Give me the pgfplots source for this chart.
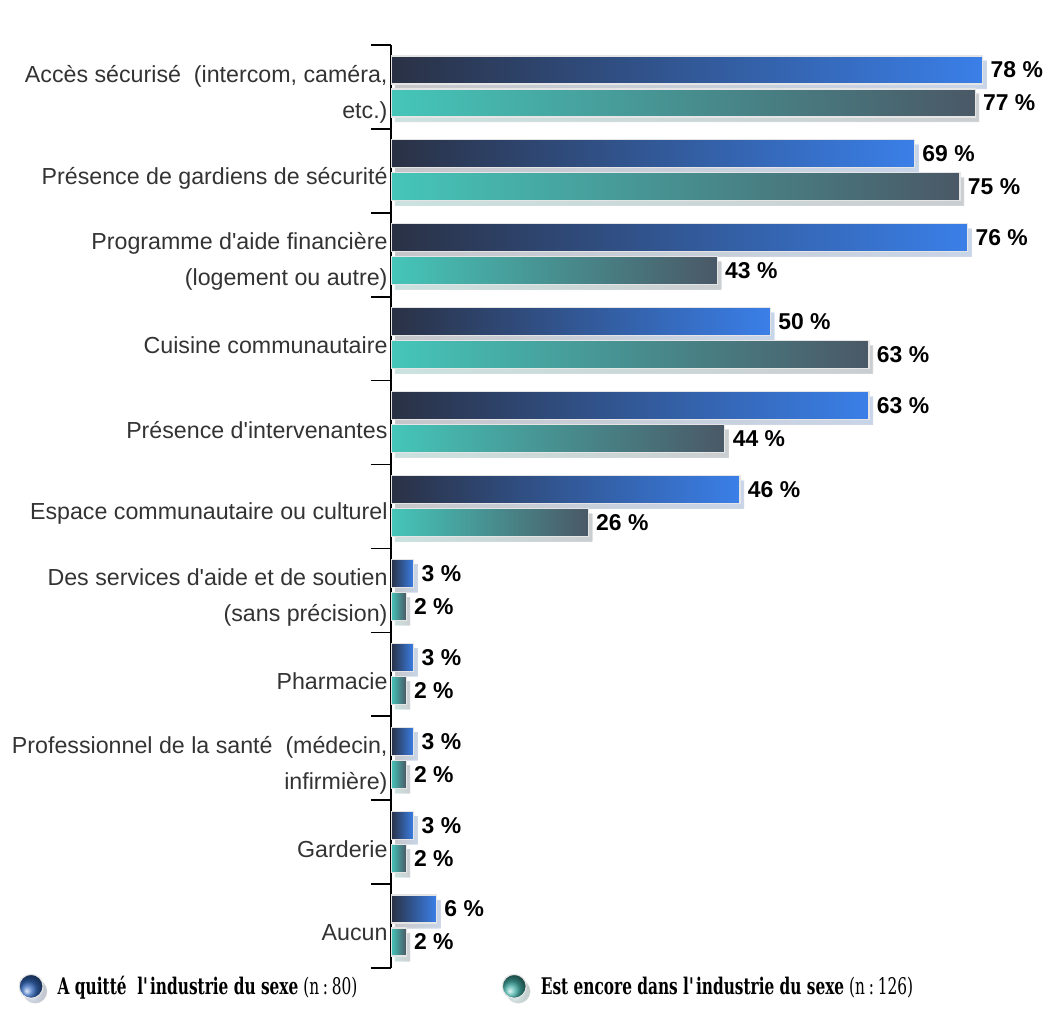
\documentclass[border=0pt]{standalone}
\usepackage{fontspec}
\setmainfont{Liberation Sans}
\newfontfamily\legfont{DejaVu Serif}[FakeStretch=0.67]
\usepackage{pgfplots}
\pgfplotsset{compat=1.18}
\usetikzlibrary{shadows}
\definecolor{navy}{HTML}{2A3144}
\definecolor{brblue}{HTML}{3A7FE8}
\definecolor{teal1}{HTML}{45C6B9}
\definecolor{slate}{HTML}{4A5866}
\definecolor{labgray}{HTML}{333333}
\newcommand\ap{\textquotesingle}

\begin{document}
\begin{tikzpicture}
\begin{axis}[
  at={(391bp,45bp)}, anchor=south west,
  scale only axis, width=607bp, height=923bp,
  xbar, bar width=28bp,
  xmin=0, xmax=80,
  ymin=-0.5, ymax=10.5, y dir=reverse,
  axis x line=none, axis y line*=left,
  ytick={0,...,10},
  yticklabels={
    {Accès sécurisé\ \ (intercom, caméra,\\etc.)},
    {Présence de gardiens de sécurité},
    {Programme d\ap aide financière\\(logement ou autre)},
    {Cuisine communautaire},
    {Présence d\ap intervenantes},
    {Espace communautaire ou culturel},
    {Des services d\ap aide et de soutien\\(sans précision)},
    {Pharmacie},
    {Professionnel de la santé\ \ (médecin,\\infirmière)},
    {Garderie},
    {Aucun}},
  major tick length=0pt,
  minor ytick={-0.5,0.5,...,10.5},
  minor tick length=20bp,
  tick align=outside, tick pos=left,
  y axis line style={line width=1.6bp, black},
  every minor tick/.style={line width=1.6bp, black},
  yticklabel style={align=right, font=\fontsize{23.3}{36}\selectfont, text=labgray, yshift=-7bp},
  /pgf/number format/assume math mode=true,
  point meta=x,
  nodes near coords={\pgfmathprintnumber{\pgfplotspointmeta}~\%},
  nodes near coords style={font=\fontsize{23}{23}\selectfont\bfseries, text=black, anchor=west, xshift=4bp},
  legend style={at={(-0.614,-0.006)}, anchor=north west, draw=none, fill=none,
    font=\legfont\fontsize{23}{27}\selectfont, legend columns=2, inner sep=0pt,
    /tikz/every even column/.append style={column sep=20bp}},
  legend cell align=left,
  barA/.style={draw=black!10, line width=1.2bp, left color=navy, right color=brblue, bar shift=17bp,
    drop shadow={shadow xshift=4bp, shadow yshift=-5bp, opacity=0.18}},
  barB/.style={draw=black!10, line width=1.2bp, left color=teal1, right color=slate, bar shift=-16bp,
    drop shadow={shadow xshift=4bp, shadow yshift=-5bp, opacity=0.18}},
]
% A quitté l'industrie du sexe (n : 80) / Est encore dans l'industrie du sexe (n : 126)
\addplot[barA, legend image code/.code={\shade[ball color=brblue!75!navy] (0bp,0bp) circle (12bp);}]
  coordinates {(78,0)};
\addlegendentry{\makebox[434bp][l]{\hspace{12bp}\textbf{A quitté\ \ l\ap industrie du sexe} (n\,:\,80)}}
\addplot[barB, legend image code/.code={\shade[ball color=teal1!80!slate] (0bp,0bp) circle (12bp);}]
  coordinates {(77,0)};
\addlegendentry{\hspace{12bp}\textbf{Est encore dans l\ap industrie du sexe} (n\,:\,126)}
\addplot[barA, forget plot] coordinates {(69,1)};
\addplot[barB, forget plot] coordinates {(75,1)};
\addplot[barA, forget plot] coordinates {(76,2)};
\addplot[barB, forget plot] coordinates {(43,2)};
\addplot[barA, forget plot] coordinates {(50,3)};
\addplot[barB, forget plot] coordinates {(63,3)};
\addplot[barA, forget plot] coordinates {(63,4)};
\addplot[barB, forget plot] coordinates {(44,4)};
\addplot[barA, forget plot] coordinates {(46,5)};
\addplot[barB, forget plot] coordinates {(26,5)};
\addplot[barA, forget plot] coordinates {(3,6)};
\addplot[barB, forget plot] coordinates {(2,6)};
\addplot[barA, forget plot] coordinates {(3,7)};
\addplot[barB, forget plot] coordinates {(2,7)};
\addplot[barA, forget plot] coordinates {(3,8)};
\addplot[barB, forget plot] coordinates {(2,8)};
\addplot[barA, forget plot] coordinates {(3,9)};
\addplot[barB, forget plot] coordinates {(2,9)};
\addplot[barA, forget plot] coordinates {(6,10)};
\addplot[barB, forget plot] coordinates {(2,10)};
\end{axis}
\pgfresetboundingbox
\path[use as bounding box] (0,0) rectangle (1054bp,1013bp);
\end{tikzpicture}
\end{document}
